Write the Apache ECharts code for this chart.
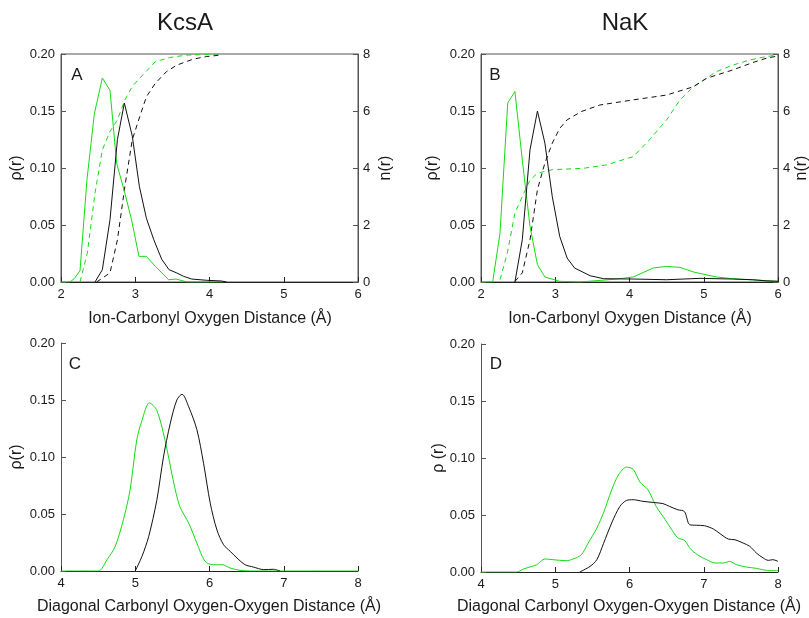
<!DOCTYPE html>
<html><head><meta charset="utf-8">
<script src="https://cdn.jsdelivr.net/npm/echarts@6/dist/echarts.min.js"></script>
<style>html,body{margin:0;padding:0;background:#fff}#c{width:809px;height:618px}</style>
</head><body><div id="c"></div>
<script>
// Panel A: KcsA ion-carbonyl oxygen, rho(r) and n(r)
const kcsaIonGreenRho = [[2.0,0],[2.12,0],[2.18,0.003],[2.256,0.0099],[2.35,0.09],[2.449,0.1475],[2.557,0.179],[2.66,0.168],[2.75,0.104],[2.86,0.078],[2.95,0.0547],[3.05,0.0225],[3.15,0.0225],[3.27,0.0137],[3.45,0.002],[3.55,0.0026],[3.7,0],[4.2,0]];
const kcsaIonBlackRho = [[2.458,0],[2.557,0.0108],[2.66,0.0547],[2.76,0.125],[2.853,0.157],[2.96,0.128],[3.055,0.084],[3.15,0.056],[3.25,0.037],[3.356,0.020],[3.455,0.0108],[3.56,0.0079],[3.65,0.005],[3.76,0.0026],[3.96,0.0015],[4.16,0.0009],[4.23,0]];
const kcsaIonGreenN = [[2.256,0],[2.355,1.02],[2.458,3.12],[2.557,4.64],[2.66,5.28],[2.76,5.69],[2.86,6.39],[2.96,6.86],[3.06,7.15],[3.27,7.73],[3.47,7.88],[3.69,7.96],[4.14,8.0]];
const kcsaIonBlackN = [[2.48,0],[2.66,0.32],[2.76,1.48],[2.86,3.35],[2.96,4.99],[3.06,5.80],[3.15,6.50],[3.27,6.97],[3.42,7.38],[3.56,7.61],[3.78,7.82],[3.96,7.91],[4.14,7.96]];
// Panel B: NaK ion-carbonyl oxygen
const nakIonGreenRho = [[2.0,0],[2.157,0],[2.256,0.043],[2.36,0.157],[2.457,0.167],[2.556,0.107],[2.66,0.0488],[2.76,0.0152],[2.86,0.0044],[3.06,0.0006],[3.33,0],[3.83,0.0026],[4.05,0.0044],[4.32,0.0123],[4.5,0.0137],[4.68,0.0128],[4.86,0.0088],[5.17,0.0044],[5.39,0.0029],[5.62,0.002],[5.84,0.0012],[6.0,0.0006]];
const nakIonBlackRho = [[2.457,0],[2.556,0.037],[2.66,0.116],[2.76,0.150],[2.86,0.122],[2.96,0.075],[3.06,0.040],[3.16,0.021],[3.26,0.0123],[3.47,0.0055],[3.65,0.0029],[4.05,0.0026],[4.5,0.002],[4.95,0.0032],[5.39,0.0026],[5.66,0.002],[5.84,0.001],[6.0,0.0006]];
const nakIonGreenN = [[2.256,0.08],[2.355,1.02],[2.457,2.42],[2.556,3.0],[2.66,3.58],[2.76,3.82],[2.96,3.94],[3.38,3.99],[3.69,4.11],[4.05,4.40],[4.27,4.99],[4.5,5.69],[4.68,6.39],[4.86,6.85],[5.17,7.38],[5.39,7.61],[5.62,7.79],[5.84,7.91],[6.0,7.96]];
const nakIonBlackN = [[2.457,0.02],[2.556,0.32],[2.66,1.48],[2.76,3.24],[2.86,4.17],[2.96,4.87],[3.06,5.39],[3.16,5.69],[3.35,5.98],[3.60,6.21],[4.05,6.39],[4.5,6.56],[4.86,6.85],[5.04,7.15],[5.39,7.44],[5.66,7.70],[5.84,7.85],[6.0,7.93]];
// Panel C: KcsA diagonal O-O
const kcsaDiagGreen = [[4.0,0],[4.5,0],[4.62,0.0099],[4.73,0.0216],[4.84,0.045],[4.93,0.071],[5.02,0.115],[5.09,0.132],[5.19,0.1475],[5.29,0.141],[5.40,0.115],[5.51,0.080],[5.60,0.0566],[5.72,0.042],[5.83,0.0245],[5.94,0.0085],[6.05,0.0055],[6.17,0.0055],[6.28,0.0026],[6.41,0.0006],[6.55,0],[8.0,0]];
const kcsaDiagBlack = [[5.0,0],[5.09,0.0128],[5.18,0.030],[5.29,0.062],[5.38,0.100],[5.47,0.129],[5.56,0.150],[5.63,0.155],[5.72,0.144],[5.83,0.124],[5.92,0.0945],[6.01,0.0595],[6.10,0.036],[6.19,0.023],[6.28,0.0172],[6.37,0.0114],[6.48,0.0055],[6.59,0.0035],[6.73,0.0012],[6.86,0.0015],[6.95,0]];
// Panel D: NaK diagonal O-O
const nakDiagGreen = [[4.0,0],[4.48,0],[4.57,0.0026],[4.66,0.0044],[4.75,0.0064],[4.86,0.0114],[4.97,0.0108],[5.15,0.0099],[5.24,0.0114],[5.35,0.015],[5.44,0.025],[5.56,0.0385],[5.65,0.052],[5.76,0.072],[5.85,0.085],[5.96,0.092],[6.05,0.090],[6.14,0.079],[6.25,0.072],[6.36,0.0575],[6.48,0.046],[6.57,0.037],[6.65,0.030],[6.74,0.0277],[6.83,0.0196],[6.95,0.0137],[7.04,0.0108],[7.15,0.0079],[7.26,0.0079],[7.35,0.0093],[7.44,0.0064],[7.57,0.0044],[7.71,0.0032],[7.84,0.0015],[8.0,0.0012]];
const nakDiagBlack = [[5.33,0],[5.47,0.005],[5.56,0.0108],[5.65,0.025],[5.76,0.043],[5.87,0.0575],[5.96,0.0628],[6.05,0.0634],[6.18,0.062],[6.32,0.061],[6.45,0.060],[6.54,0.0575],[6.65,0.0546],[6.74,0.053],[6.81,0.0415],[6.90,0.041],[7.01,0.0406],[7.13,0.0377],[7.22,0.0336],[7.33,0.0289],[7.42,0.0283],[7.53,0.0254],[7.62,0.0225],[7.71,0.0166],[7.80,0.0123],[7.87,0.0102],[7.93,0.0108],[8.0,0.0093]];

const panelTitles = ['KcsA','NaK'];
const panelLetters = ['A','B','C','D'];
const ionAxisTitle = 'Ion-Carbonyl Oxygen Distance (Å)';
const diagAxisTitle = 'Diagonal Carbonyl Oxygen-Oxygen Distance (Å)';

const GREEN = '#12dd12', BLACK = '#111';
const FONT = 'Liberation Sans, Arial, sans-serif';
const txt = '#1a1a1a';

const grids = [
  {left:61, top:54, width:297, height:228, show:true, borderColor:'#555', borderWidth:1},
  {left:481, top:54, width:297, height:228, show:true, borderColor:'#555', borderWidth:1},
  {left:61, top:343, width:297, height:228},
  {left:481, top:344, width:297, height:228}
];
function xAx(g, min, max){
  return {type:'value', gridIndex:g, min:min, max:max, interval:1,
    axisLine:{show:true, onZero:false, lineStyle:{color:'#222', width:1}},
    axisTick:{show:true, inside:true, length:5, lineStyle:{color:'#222'}},
    axisLabel:{color:txt, fontSize:13, fontFamily:FONT, margin:6},
    splitLine:{show:false}};
}
function yAx(g){
  return {type:'value', gridIndex:g, min:0, max:0.2, interval:0.05,
    axisLine:{show:true, lineStyle:{color:'#555', width:1}},
    axisTick:{show:true, inside:true, length:5, lineStyle:{color:'#555'}},
    axisLabel:{color:txt, fontSize:13, fontFamily:FONT, margin:6, formatter:v=>v.toFixed(2)},
    splitLine:{show:false}};
}
function nAx(g){
  return {type:'value', gridIndex:g, position:'right', min:0, max:8, interval:2,
    axisLine:{show:true, lineStyle:{color:'#555', width:1}},
    axisTick:{show:true, inside:true, length:5, lineStyle:{color:'#555'}},
    axisLabel:{color:txt, fontSize:13, fontFamily:FONT, margin:5},
    splitLine:{show:false}};
}
function line(data, xi, yi, color, dashed, smooth){
  return {type:'line', data:data, xAxisIndex:xi, yAxisIndex:yi, showSymbol:false, symbol:'none',
    smooth:smooth||false, lineStyle:{color:color, width:1, type: dashed ? [5,4] : 'solid'}, z: dashed?2:3};
}
function t(text, x, y, size, rot){
  const e = {type:'text', x:x, y:y, style:{text:text, fill:txt, font: size+'px '+FONT, textAlign:'center', textVerticalAlign:'middle'}};
  if (rot) e.rotation = rot;
  return e;
}

const option = {
  animation:false,
  backgroundColor:'#fff',
  grid: grids,
  xAxis:[xAx(0,2,6), xAx(1,2,6), xAx(2,4,8), xAx(3,4,8)],
  yAxis:[yAx(0), nAx(0), yAx(1), nAx(1), yAx(2), yAx(3)],
  series:[
    line(kcsaIonGreenN,0,1,GREEN,true), line(kcsaIonBlackN,0,1,BLACK,true),
    line(kcsaIonGreenRho,0,0,GREEN,false), line(kcsaIonBlackRho,0,0,BLACK,false),
    line(nakIonGreenN,1,3,GREEN,true), line(nakIonBlackN,1,3,BLACK,true),
    line(nakIonGreenRho,1,2,GREEN,false), line(nakIonBlackRho,1,2,BLACK,false),
    line(kcsaDiagGreen,2,4,GREEN,false,0.3), line(kcsaDiagBlack,2,4,BLACK,false,0.3),
    line(nakDiagGreen,3,5,GREEN,false,0.3), line(nakDiagBlack,3,5,BLACK,false,0.3)
  ],
  graphic:[
    t(panelTitles[0],185,23,24), t(panelTitles[1],625,23,24),
    t(panelLetters[0],77,75,17), t(panelLetters[1],495,75,17),
    t(panelLetters[2],75,364,17), t(panelLetters[3],496,364,17),
    t(ionAxisTitle,210,319,16), t(ionAxisTitle,630,319,16),
    t(diagAxisTitle,209,607,16), t(diagAxisTitle,629,607,16),
    t('ρ(r)',17,168,16,Math.PI/2), t('ρ(r)',433,168,16,Math.PI/2),
    t('ρ(r)',17,457,16,Math.PI/2), t('ρ (r)',439,458,16,Math.PI/2),
    t('n(r)',386,168,16,Math.PI/2), t('n(r)',802,168,16,Math.PI/2)
  ]
};
echarts.init(document.getElementById('c'), null, {renderer:'canvas'}).setOption(option);
</script></body></html>
